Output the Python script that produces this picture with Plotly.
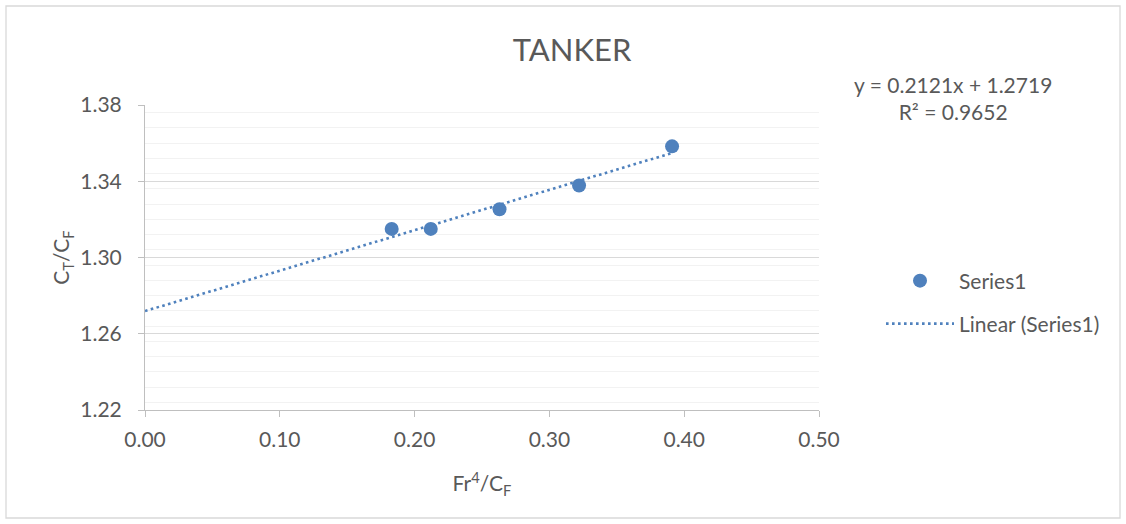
import numpy as np
import plotly.graph_objects as go

# ---- data ----
fr4_cf = [0.183, 0.212, 0.263, 0.322, 0.391]
ct_cf = [1.315, 1.315, 1.3253, 1.3378, 1.3583]
trend_slope = 0.2121
trend_intercept = 1.2719
r_squared = 0.9652
x_ticks = [0.0, 0.1, 0.2, 0.3, 0.4, 0.5]
y_ticks = [1.22, 1.26, 1.30, 1.34, 1.38]

FONT = "Lato"
TXT = "#595959"
BLUE = "#4F81BD"
FS = 21

trend_x = np.array([0.0, max(fr4_cf)])
trend_y = trend_slope * trend_x + trend_intercept

fig = go.Figure()
fig.add_trace(go.Scatter(
    x=fr4_cf, y=ct_cf, mode="markers", name="Series1",
    marker=dict(color=BLUE, size=14, line=dict(width=0)),
    legend="legend",
))
fig.add_trace(go.Scatter(
    x=trend_x, y=trend_y, mode="lines", name="Linear (Series1)",
    line=dict(color=BLUE, width=2.6, dash="2.6px,3.4px"),
    legend="legend2",
))

axis_common = dict(
    showline=True, linecolor="#BFBFBF", linewidth=1,
    ticks="outside", tickcolor="#BFBFBF", ticklen=6,
    tickfont=dict(family=FONT, size=FS, color=TXT),
    zeroline=False,
)

legend_x = (881 - 145) / 674

fig.update_layout(
    width=1126, height=524,
    showlegend=True,
    paper_bgcolor="white", plot_bgcolor="white",
    margin=dict(l=145, r=307, t=105, b=114),
    font=dict(family=FONT, color=TXT),
    title=dict(text="TANKER", x=572 / 1126, xanchor="center",
               y=1 - 50 / 524, yanchor="middle",
               font=dict(family=FONT, size=31, color=TXT)),
    xaxis=dict(
        range=[0, 0.5], tickvals=x_ticks, ticktext=[f"{v:.2f}" for v in x_ticks],
        showgrid=False, ticklabelstandoff=5,
        title=dict(text="Fr<sup>4</sup>/C<sub>F</sub>", standoff=26,
                   font=dict(family=FONT, size=FS, color=TXT)),
        **axis_common,
    ),
    yaxis=dict(
        range=[1.22, 1.38], tickvals=y_ticks, ticktext=[f"{v:.2f}" for v in y_ticks],
        showgrid=True, gridcolor="#D9D9D9", gridwidth=1.3,
        minor=dict(dtick=0.008, showgrid=True, gridcolor="#F2F2F2", gridwidth=1.3),
        ticklabelstandoff=12,
        title=dict(text="C<sub>T</sub>/C<sub>F</sub>", standoff=4,
                   font=dict(family=FONT, size=FS, color=TXT)),
        **axis_common,
    ),
    legend=dict(x=legend_x, y=(410 - 281) / 305, xanchor="left", yanchor="middle",
                font=dict(family=FONT, size=FS, color=TXT), itemwidth=68,
                bgcolor="rgba(0,0,0,0)"),
    legend2=dict(x=legend_x, y=(410 - 324) / 305, xanchor="left", yanchor="middle",
                 font=dict(family=FONT, size=FS, color=TXT), itemwidth=68,
                 bgcolor="rgba(0,0,0,0)"),
    shapes=[dict(type="rect", xref="paper", yref="paper",
                 x0=(6 - 145) / 674, x1=(1120 - 145) / 674,
                 y0=(410 - 518) / 305, y1=(410 - 6) / 305,
                 line=dict(color="#D9D9D9", width=1.3), layer="below")],
    annotations=[dict(
        text=f"y = {trend_slope}x + {trend_intercept}<br>R² = {r_squared}",
        xref="paper", yref="paper", x=(953 - 145) / 674, y=(410 - 98) / 305,
        xanchor="center", yanchor="middle", align="center", showarrow=False,
        font=dict(family=FONT, size=FS, color=TXT),
    )],
)

fig.write_html("out.html", config={"displayModeBar": False},
               post_script="document.body.style.margin='0';")
